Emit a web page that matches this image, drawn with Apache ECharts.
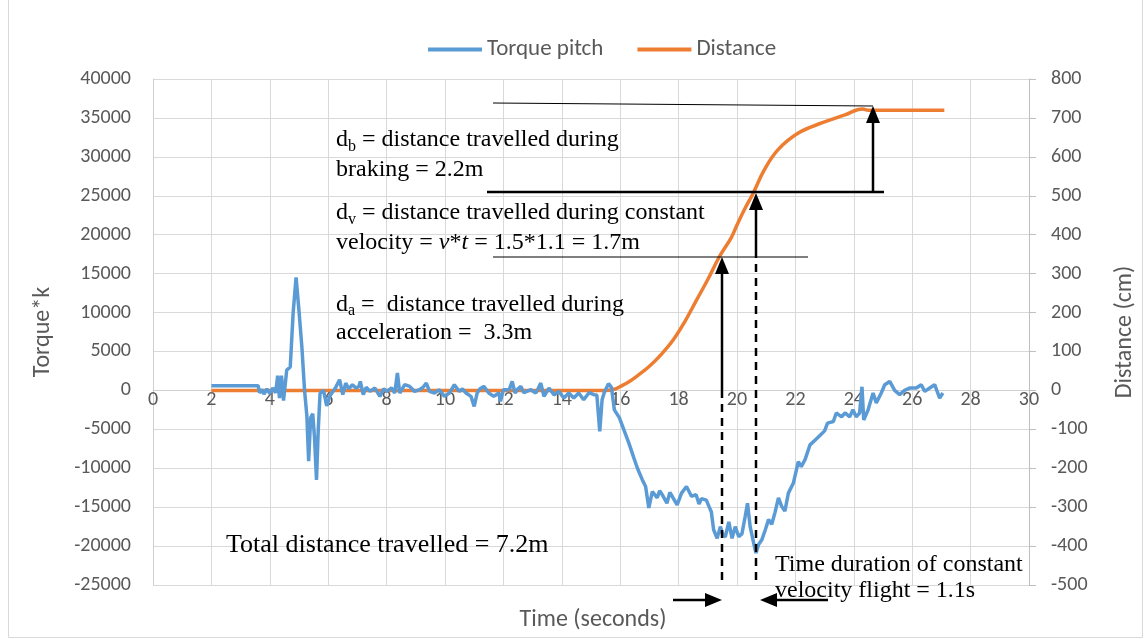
<!DOCTYPE html>
<html><head><meta charset="utf-8">
<script src="https://cdn.jsdelivr.net/npm/echarts@6/dist/echarts.min.js"></script>
<style>html,body{margin:0;padding:0;background:#fff}#c{width:1145px;height:639px}</style>
</head><body><div id="c"></div>
<script>
// ---- data ----
const seriesNames = ['Torque pitch', 'Distance'];
const torqueTime = [2.0,3.6,3.65,3.75,3.8,3.9,4.0,4.1,4.2,4.27,4.33,4.4,4.47,4.58,4.7,4.8,4.9,5.0,5.1,5.19,5.27,5.33,5.4,5.47,5.53,5.6,5.66,5.72,5.84,5.95,6.06,6.23,6.39,6.5,6.6,6.7,6.83,6.95,7.05,7.1,7.2,7.3,7.43,7.6,7.77,7.9,8.0,8.17,8.28,8.37,8.45,8.55,8.62,8.79,8.96,9.13,9.25,9.36,9.47,9.64,9.81,9.98,10.15,10.32,10.49,10.6,10.72,10.89,11.0,11.1,11.2,11.33,11.5,11.67,11.84,11.9,12.0,12.2,12.3,12.4,12.5,12.6,12.7,12.8,12.94,13.11,13.2,13.28,13.39,13.56,13.73,13.9,14.07,14.24,14.41,14.58,14.75,14.93,15.1,15.2,15.3,15.38,15.46,15.6,15.7,15.8,15.97,16.14,16.3,16.47,16.59,16.76,16.87,16.98,17.1,17.27,17.35,17.44,17.6,17.7,17.78,17.95,18.1,18.27,18.44,18.6,18.7,18.78,18.95,19.05,19.12,19.2,19.32,19.43,19.52,19.6,19.72,19.83,19.94,20.06,20.17,20.28,20.36,20.45,20.57,20.65,20.74,20.85,20.97,21.08,21.19,21.3,21.42,21.53,21.64,21.76,21.93,22.1,22.2,22.33,22.5,22.67,22.84,23.0,23.1,23.3,23.4,23.58,23.7,23.86,23.97,24.08,24.2,24.28,24.34,24.49,24.66,24.77,24.94,25.06,25.23,25.4,25.57,25.74,25.91,26.14,26.31,26.43,26.6,26.77,26.94,27.05];
const torqueValue = [600,600,-300,100,-500,200,-400,300,-300,1900,-1000,1900,-1300,2600,3000,10000,14500,10200,5500,0,-3300,-9100,-3500,-3000,-6000,-11500,-5000,-400,0,-2000,-700,200,1370,-550,940,200,730,300,510,1150,-550,400,-130,300,-770,200,-130,300,-340,2230,-340,300,730,510,-130,90,400,940,-130,-340,90,-770,-340,730,-130,200,-340,-770,-2050,-340,200,510,-340,-770,-340,-1400,90,90,1150,-340,200,510,-300,-130,90,-340,300,940,-770,300,-550,-130,-980,-340,-980,-340,-1200,-300,-550,-600,-5260,-1200,-200,860,400,-2500,-3500,-5200,-6800,-8700,-10000,-11500,-12350,-15100,-13000,-13800,-12900,-13400,-14500,-13100,-13600,-14700,-13200,-12350,-13600,-13400,-14600,-13900,-14100,-15000,-15600,-17900,-19000,-17500,-18600,-18800,-16900,-19000,-17500,-18800,-18400,-16200,-14500,-17500,-19600,-20900,-19800,-19200,-17900,-16600,-17200,-15700,-13800,-14900,-15500,-13200,-11900,-9150,-9800,-8900,-7000,-6400,-5800,-5200,-4200,-4000,-2900,-3400,-2900,-3400,-2500,-3400,-2900,470,-3800,-2500,-340,-1600,-340,730,1150,0,-550,0,300,300,730,-130,300,730,-980,-340];
const distTime = [2.0,15.5,15.8,16.0,16.3,16.6,17.0,17.4,17.8,18.2,18.6,19.0,19.4,19.8,20.0,20.25,20.55,20.93,21.4,22.1,22.9,23.7,24.3,24.5,27.1];
const distValue = [0,0,3,10,22,38,62,92,128,175,230,285,344,392,425,464,506,566,618,661,687,708,723,720,720];

const FONT = 'Carlito, Lato, sans-serif';
const SERIF = '"Liberation Serif", "Times New Roman", serif';
const GREY = '#595959';

const torqueData = torqueTime.map((t, i) => [t, torqueValue[i]]);
const distData = distTime.map((t, i) => [t, distValue[i]]);

// ---- annotation helpers ----
function seg(x1, y1, x2, y2, w, dash) {
  return {type: 'line', z: 100, shape: {x1, y1, x2, y2},
    style: {stroke: '#000', lineWidth: w, lineDash: dash || null}};
}
function head(x, y, dir) {
  const L = 17, W = 7;
  let p;
  if (dir === 'up') p = [[x, y], [x - W, y + L], [x + W, y + L]];
  else if (dir === 'right') p = [[x, y], [x - L, y - W], [x - L, y + W]];
  else p = [[x, y], [x + L, y - W], [x + L, y + W]];
  return {type: 'polygon', z: 100, shape: {points: p}, style: {fill: '#000'}};
}
function rtext(x, y, text, lh, fs) {
  lh = lh || 30; fs = fs || 24;
  const r = {
    n: {fontFamily: SERIF, fontSize: fs, color: '#000', lineHeight: lh},
    i: {fontFamily: SERIF, fontSize: fs, color: '#000', lineHeight: lh, fontStyle: 'italic'},
    s: {fontFamily: SERIF, fontSize: 16, color: '#000', lineHeight: lh, verticalAlign: 'bottom'}
  };
  return {type: 'text', z: 100, x, y,
    style: {text, rich: r, fill: '#000', font: fs + 'px ' + SERIF, verticalAlign: 'top', align: 'left'}};
}

const chart = echarts.init(document.getElementById('c'), null, {renderer: 'canvas'});
chart.setOption({
  animation: false,
  backgroundColor: '#fff',
  textStyle: {fontFamily: FONT},
  legend: {
    left: 423, top: 33, icon: 'rect', itemWidth: 54, itemHeight: 4, itemGap: 34,
    textStyle: {fontSize: 23, color: GREY, fontFamily: FONT},
    data: seriesNames
  },
  grid: {left: 153, right: 112, top: 79, bottom: 54, containLabel: false},
  xAxis: {
    type: 'value', min: 0, max: 30, interval: 2,
    position: 'bottom', offset: -194.6,
    axisLine: {onZero: false, lineStyle: {color: '#D0D0D0', width: 1}},
    axisTick: {show: false},
    axisLabel: {color: GREY, fontSize: 20, margin: 0, fontFamily: FONT, showMinLabel: true, showMaxLabel: true},
    splitLine: {show: true, lineStyle: {color: '#D9D9D9', width: 1}}
  },
  yAxis: [{
    type: 'value', min: -25000, max: 40000, interval: 5000,
    name: 'Torque*k', nameLocation: 'middle', nameGap: 98, nameRotate: 90,
    nameTextStyle: {color: GREY, fontSize: 24, fontFamily: FONT},
    axisLine: {show: true, lineStyle: {color: '#D0D0D0'}},
    axisTick: {show: false},
    axisLabel: {color: GREY, fontSize: 20, margin: 22, fontFamily: FONT, formatter: v => String(v)},
    splitLine: {show: true, lineStyle: {color: '#D9D9D9', width: 1}}
  }, {
    type: 'value', min: -500, max: 800, interval: 100, position: 'right',
    name: 'Distance (cm)', nameLocation: 'middle', nameGap: 84, nameRotate: 90,
    nameTextStyle: {color: GREY, fontSize: 24, fontFamily: FONT},
    axisLine: {show: true, onZero: false, lineStyle: {color: '#BFBFBF'}},
    axisTick: {show: true, length: 7, lineStyle: {color: '#BFBFBF'}},
    axisLabel: {color: GREY, fontSize: 20, margin: 22, fontFamily: FONT, formatter: v => String(v)},
    splitLine: {show: false}
  }],
  series: [{
    name: seriesNames[0], type: 'line', yAxisIndex: 0, data: torqueData,
    showSymbol: false, symbol: 'none', lineStyle: {color: '#5B9BD5', width: 3.5},
    itemStyle: {color: '#5B9BD5'}, z: 3
  }, {
    name: seriesNames[1], type: 'line', yAxisIndex: 1, data: distData,
    showSymbol: false, symbol: 'none', smooth: 0.4, lineStyle: {color: '#ED7D31', width: 3.5},
    itemStyle: {color: '#ED7D31'}, z: 2
  }],
  graphic: [
    {type: 'rect', z: 0, shape: {x: 8.5, y: -5, width: 1134, height: 642.5}, style: {fill: null, stroke: '#D9D9D9', lineWidth: 1}},
    {type: 'text', z: 100, x: 593, y: 620, style: {text: 'Time (seconds)', fill: GREY, font: '24px ' + FONT, align: 'center', verticalAlign: 'middle'}},
    seg(493, 103, 873, 106, 1),
    seg(487, 192, 884, 192, 2.5),
    seg(493, 257, 808, 257, 1),
    seg(873, 192, 873, 120, 2.5), head(873, 106, 'up'),
    seg(722, 390, 722, 270, 2.5), head(722, 257, 'up'),
    seg(722, 390, 722, 585, 2.5, [8, 6]),
    seg(756, 250, 756, 205, 2.5), head(756, 193, 'up'),
    seg(756, 250, 756, 585, 2.5, [8, 6]),
    seg(673, 600, 710, 600, 2.5), head(722, 600, 'right'),
    seg(828, 600, 772, 600, 2.5), head(760, 600, 'left'),
    rtext(336, 125, '{n|d}{s|b}{n| = distance travelled during}\n{n|braking = 2.2m}'),
    rtext(336, 198, '{n|d}{s|v}{n| = distance travelled during constant}\n{n|velocity = }{i|v}{n|*}{i|t}{n| = 1.5*1.1 = 1.7m}'),
    rtext(336, 291, '{n|d}{s|a}{n| =  distance travelled during}\n{n|acceleration =  3.3m}', 28),
    rtext(226, 530, '{n|Total distance travelled = 7.2m}', 30, 26),
    rtext(775, 552, '{n|Time duration of constant}\n{n|velocity flight = 1.1s}', 26)
  ]
});
</script>
</body></html>
